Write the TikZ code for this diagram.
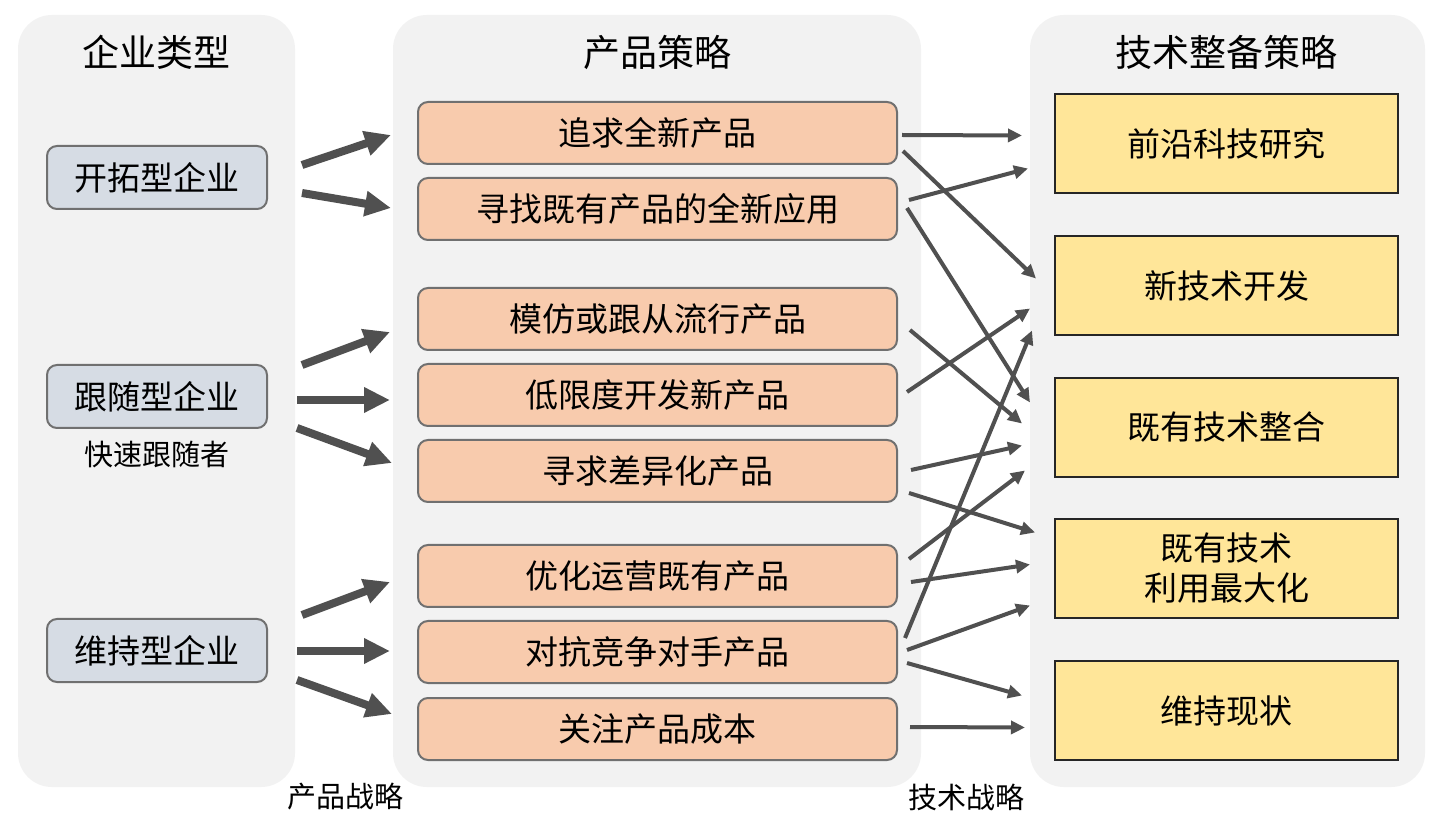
\documentclass[tikz,border=0pt]{standalone}
\usepackage{fontspec}
\setmainfont{Noto Sans CJK SC}
\usetikzlibrary{arrows.meta,calc}
\definecolor{panelbg}{HTML}{F2F2F2}
\definecolor{grayfill}{HTML}{D6DCE4}
\definecolor{grayedge}{HTML}{707070}
\definecolor{prodfill}{HTML}{F8CBAD}
\definecolor{techfill}{HTML}{FFE699}
\definecolor{techedge}{HTML}{262626}
\definecolor{arrowc}{HTML}{505050}
\tikzset{
  panel/.style={fill=panelbg, rounded corners=17pt},
  title/.style={font=\fontsize{18.5pt}{22pt}\selectfont, inner sep=0pt},
  corpbox/.style={draw=grayedge, line width=1pt, fill=grayfill, rounded corners=5pt,
    minimum width=110pt, minimum height=31.5pt, inner sep=0pt, outer sep=0pt,
    font=\fontsize{16.5pt}{20pt}\selectfont},
  prodbox/.style={draw=grayedge, line width=1pt, fill=prodfill, rounded corners=5pt,
    minimum width=239.5pt, minimum height=31pt, inner sep=0pt, outer sep=0pt,
    font=\fontsize{16.5pt}{20pt}\selectfont},
  techbox/.style={draw=techedge, line width=1pt, fill=techfill,
    minimum width=171.5pt, minimum height=49.5pt, inner sep=0pt, outer sep=0pt,
    align=center, font=\fontsize{16.5pt}{20pt}\selectfont},
  small/.style={font=\fontsize{14.5pt}{17pt}\selectfont, inner sep=0pt},
  thick arrow/.style={draw=arrowc, fill=arrowc, line width=4pt,
    -{Triangle[length=13pt,width=12pt]}},
  thin arrow/.style={draw=arrowc, fill=arrowc, line width=2pt,
    -{Triangle[length=7pt,width=6.5pt]}},
}
\begin{document}
\begin{tikzpicture}[x=0.5pt,y=-0.5pt]
\useasboundingbox (0,0) rectangle (1448,834);
\fill[white] (0,0) rectangle (1448,834);
% panels
\fill[panel] (18,15) rectangle (295,787);
\fill[panel] (393,15) rectangle (921,787);
\fill[panel] (1030,15) rectangle (1425,787);
% titles
\node[title] (ttl1) at (157,52) {企业类型};
\node[title] (ttl2) at (657,52) {产品策略};
\node[title] (ttl3) at (1226,52) {技术整备策略};
% company types
\node[corpbox] (g1) at (157,177.5) {开拓型企业};
\node[corpbox] (g2) at (157,396.5) {跟随型企业};
\node[small] (g2s) at (157,455) {快速跟随者};
\node[corpbox] (g3) at (157,650.5) {维持型企业};
% product strategies
\node[prodbox] (p1) at (657.5,133) {追求全新产品};
\node[prodbox] (p2) at (657.5,209) {寻找既有产品的全新应用};
\node[prodbox] (p3) at (657.5,319) {模仿或跟从流行产品};
\node[prodbox] (p4) at (657.5,395) {低限度开发新产品};
\node[prodbox] (p5) at (657.5,471) {寻求差异化产品};
\node[prodbox] (p6) at (657.5,576) {优化运营既有产品};
\node[prodbox] (p7) at (657.5,652) {对抗竞争对手产品};
\node[prodbox] (p8) at (657.5,729) {关注产品成本};
% tech strategies
\node[techbox] (t1) at (1226.5,143.5) {前沿科技研究};
\node[techbox] (t2) at (1226.5,285.5) {新技术开发};
\node[techbox] (t3) at (1226.5,427.5) {既有技术整合};
\node[techbox] (t4) at (1226.5,568.5) {既有技术\\利用最大化};
\node[techbox] (t5) at (1226.5,710.5) {维持现状};
% bottom labels
\node[small] (lb1) at (345,797) {产品战略};
\node[small] (lb2) at (966,797) {技术战略};
% thick arrows
\draw[thick arrow] ($(g1.east)+(35,-12.5)$) -- ($(p1.west)+(-27,2)$);
\draw[thick arrow] ($(g1.east)+(35,15.5)$) -- ($(p2.west)+(-27,-1)$);
\draw[thick arrow] ($(g2.east)+(35,-31.5)$) -- ($(p3.west)+(-28,13)$);
\draw[thick arrow] ($(g2.east)+(30,3.5)$) -- ($(p4.west)+(-28,5)$);
\draw[thick arrow] ($(g2.east)+(30,31.5)$) -- ($(p5.west)+(-26,-8)$);
\draw[thick arrow] ($(g3.east)+(35,-35.5)$) -- ($(p6.west)+(-28,6)$);
\draw[thick arrow] ($(g3.east)+(30,0.5)$) -- ($(p7.west)+(-28,-1)$);
\draw[thick arrow] ($(g3.east)+(30,29.5)$) -- ($(p8.west)+(-26,-15)$);
% thin arrows
\draw[thin arrow] ($(p1.east)+(5,2)$) -- ($(t1.west)+(-33,-8)$);
\draw[thin arrow] ($(p2.east)+(12,-9)$) -- ($(t1.west)+(-27,25)$);
\draw[thin arrow] ($(p1.east)+(6,18)$) -- ($(t2.west)+(-19,-7)$);
\draw[thin arrow] ($(p2.east)+(10,-1)$) -- ($(t3.west)+(-25,-25)$);
\draw[thin arrow] ($(p3.east)+(13,11)$) -- ($(t3.west)+(-33,-4)$);
\draw[thin arrow] ($(p4.east)+(10,-3)$) -- ($(t2.west)+(-25,23)$);
\draw[thin arrow] ($(p7.east)+(8,-14)$) -- ($(t2.west)+(-23,45)$);
\draw[thin arrow] ($(p5.east)+(14,-1)$) -- ($(t3.west)+(-33,18)$);
\draw[thin arrow] ($(p5.east)+(12,22)$) -- ($(t4.west)+(-20,-36)$);
\draw[thin arrow] ($(p6.east)+(12,-17)$) -- ($(t3.west)+(-30,43)$);
\draw[thin arrow] ($(p6.east)+(14,6)$) -- ($(t4.west)+(-25,-4)$);
\draw[thin arrow] ($(p7.east)+(10,-2)$) -- ($(t4.west)+(-25,37)$);
\draw[thin arrow] ($(p7.east)+(10,11)$) -- ($(t5.west)+(-33,-15)$);
\draw[thin arrow] ($(p8.east)+(13,-2)$) -- ($(t5.west)+(-30,17)$);
\end{tikzpicture}
\end{document}
